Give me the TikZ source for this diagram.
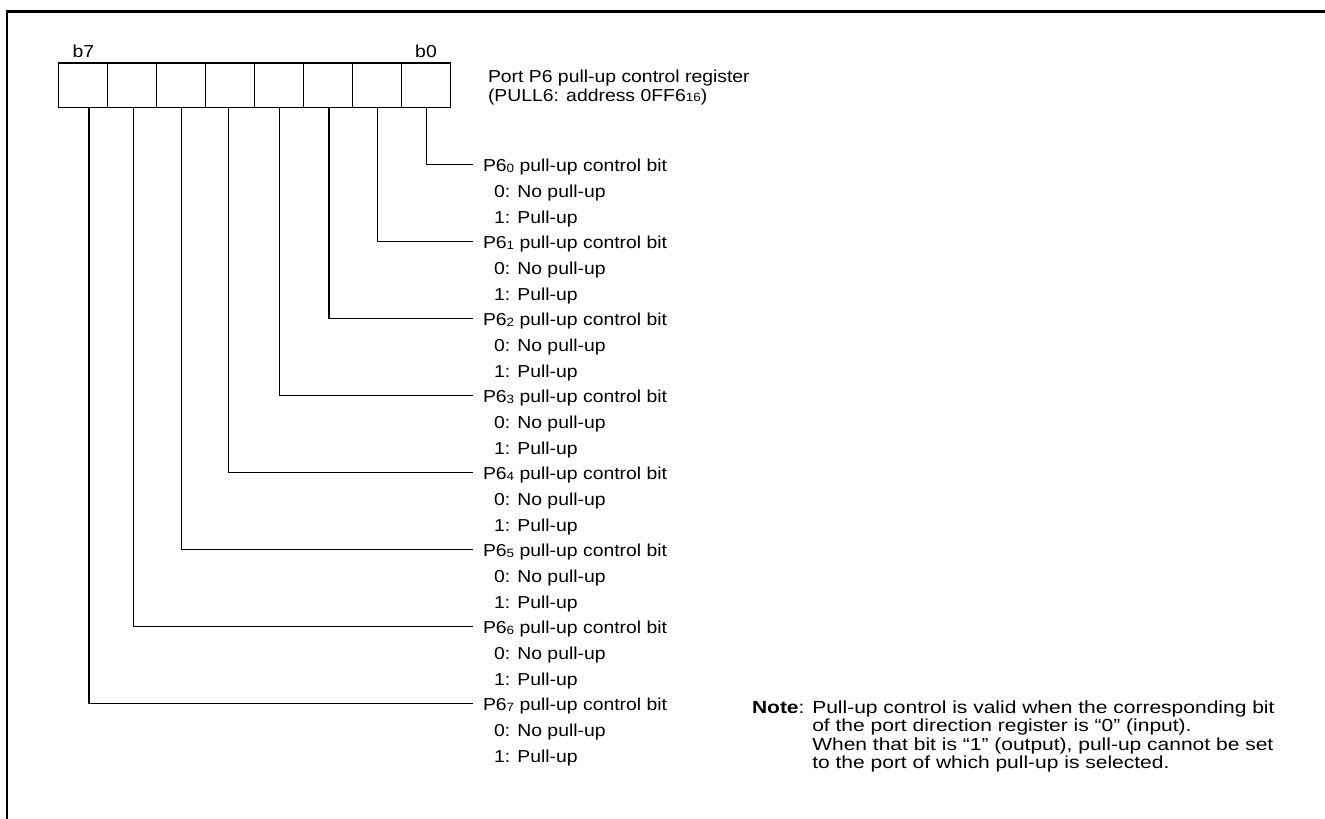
\documentclass[tikz,border=0pt]{standalone}
\usepackage{fontspec}
\setmainfont{Liberation Sans}[FakeStretch=1.12]
\newfontfamily\notefont{Liberation Sans}[FakeStretch=1.2]
\newcommand\sbs[1]{\raisebox{-0.6pt}{\fontsize{12}{12}\selectfont #1}}
\begin{document}
\begin{tikzpicture}[x=1pt,y=-1pt,
  font=\fontsize{17.3}{20}\selectfont,
  cell/.style={draw, line width=1.5pt, minimum width=49pt, minimum height=44.7pt, inner sep=0pt, outer sep=0pt},
  lbl/.style={anchor=base west, inner sep=0pt, outer sep=0pt},
  notetxt/.style={lbl, font=\notefont\fontsize{17.5}{20}\selectfont},
  conn/.style={line width=1.3pt},
  frame/.style={line width=2.4pt, line join=miter}]
\useasboundingbox (0,0) rectangle (1325,819);
\draw[frame] (1325,11.5) -- (7,11.5) -- (7,819);
% register cells
\foreach \b in {0,...,7}
  \node[cell] (c\b) at ({426-49*\b},85.35) {};
\node[inner sep=0pt] (b7) at (83.5,51) {b7};
\node[inner sep=0pt] (b0) at (426,51) {b0};
% title
\node[lbl] (title1) at (488,82.5) {Port P6 pull-up control register};
\node[lbl] (title2) at (488,101) {(PULL6: address 0FF6\sbs{16})};
% bit descriptions
\foreach \b/\dx in {0/0.7,1/0.7,2/1,3/0.3,4/-1.7,5/0.7,6/1.7,7/6}{
  \pgfmathsetmacro\L{164.3+77*\b}
  \node[lbl] (t\b) at (483,\L+7.5) {P6\sbs{\b} pull-up control bit};
  \node[lbl] (z\b) at (494,\L+33.2) {0: No pull-up};
  \node[lbl] (o\b) at (494,\L+58.8) {1: Pull-up};
  \coordinate (e\b) at (473,\L);
  \draw[conn] ([xshift=\dx pt]c\b.south) |- (e\b);
}
% note
\node[notetxt] (note) at (752,713) {\bfseries Note};
\node[notetxt] (nl1) at (note.base east) {: \ };
\node[notetxt] (nb1) at (nl1.base east) {Pull-up control is valid when the corresponding bit};
\node[notetxt] (nb2) at ([yshift=-18.5pt]nb1.base west) {of the port direction register is \char"201C 0\char"201D\ (input).};
\node[notetxt] (nb3) at ([yshift=-18.5pt]nb2.base west) {When that bit is \char"201C 1\char"201D\ (output), pull-up cannot be set};
\node[notetxt] (nb4) at ([yshift=-18.5pt]nb3.base west) {to the port of which pull-up is selected.};
\end{tikzpicture}
\end{document}
